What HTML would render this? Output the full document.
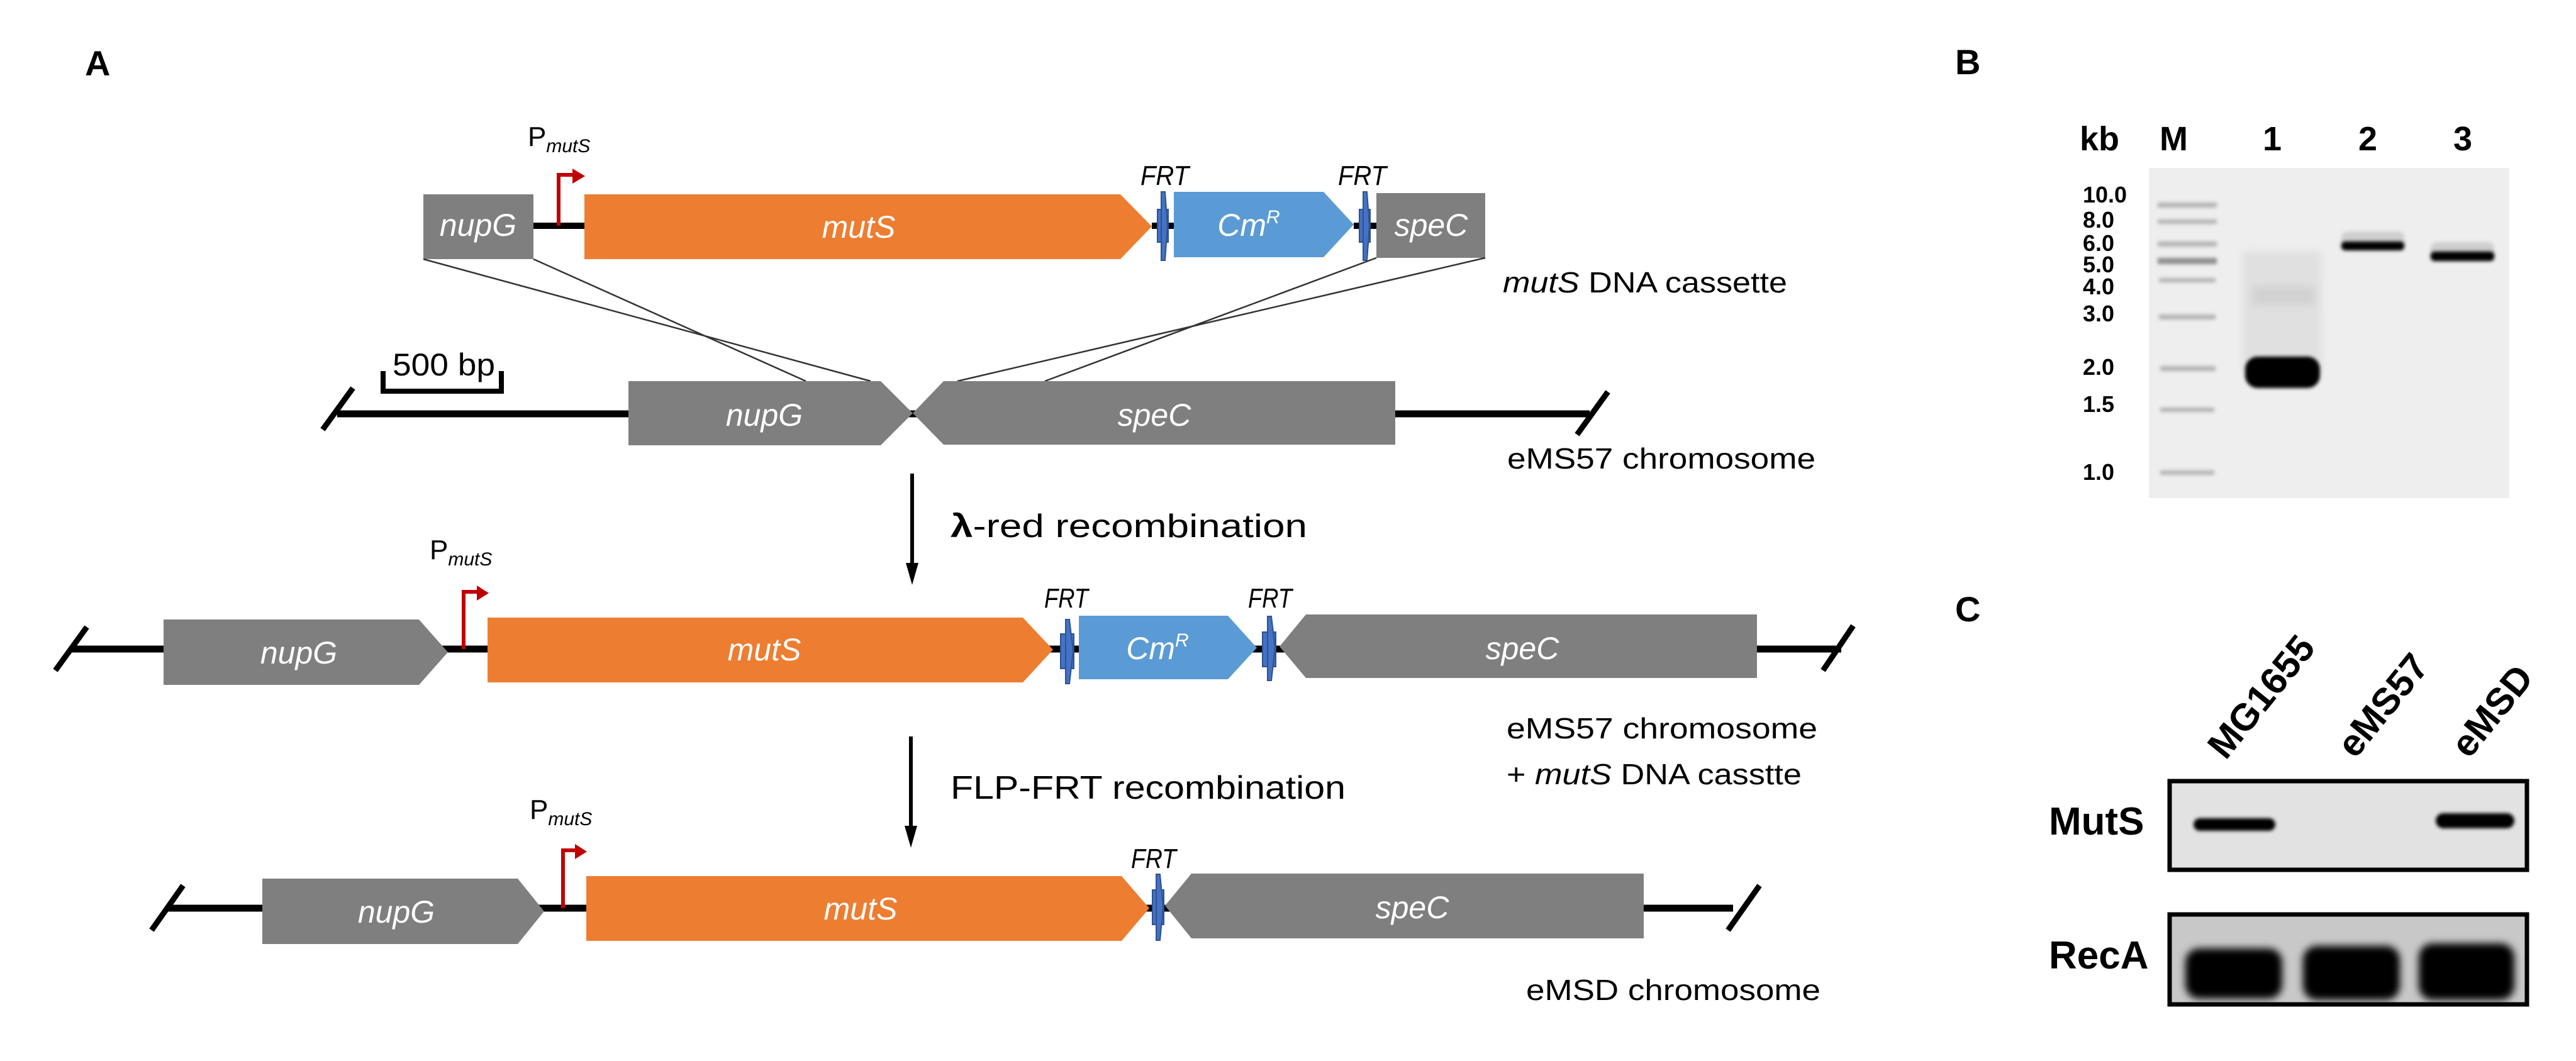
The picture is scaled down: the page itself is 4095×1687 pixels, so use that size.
<!DOCTYPE html>
<html><head><meta charset="utf-8"><style>
html,body{margin:0;padding:0;background:#fff}
svg{display:block}
text{font-family:"Liberation Sans",sans-serif}
.g{fill:#fff;font-style:italic;font-size:50px;text-anchor:middle}
.frt{font-style:italic;font-size:44px;fill:#000}
.lab{font-size:46px;fill:#000}
.gel{font-weight:bold;font-size:36px;fill:#000;font-family:"Liberation Sans",sans-serif}
</style></head><body>
<svg width="4095" height="1687" viewBox="0 0 4095 1687" xmlns="http://www.w3.org/2000/svg">
<defs>
<filter id="bl" x="-20%" y="-50%" width="140%" height="200%"><feGaussianBlur stdDeviation="6"/></filter>
<filter id="bl2" x="-20%" y="-50%" width="140%" height="200%"><feGaussianBlur stdDeviation="3"/></filter>
</defs>
<text x="135" y="120" font-size="56" font-weight="bold">A</text>
<text x="3108" y="118" font-size="56" font-weight="bold">B</text>
<text x="3108" y="988" font-size="56" font-weight="bold">C</text>

<line x1="848" y1="359" x2="930" y2="359" stroke="#000" stroke-width="10"/>
<line x1="1831" y1="359" x2="1866" y2="359" stroke="#000" stroke-width="10"/>
<line x1="2152" y1="359" x2="2188" y2="359" stroke="#000" stroke-width="10"/>
<rect x="673" y="309" width="175" height="103" fill="#7f7f7f"/>
<text class="g" x="760" y="375">nupG</text>
<polygon points="929,309 1781,309 1831,360 1781,412 929,412" fill="#ed7d31"/>
<text class="g" x="1365" y="378">mutS</text>
<polygon points="1866,305 2104,305 2152,357 2104,409 1866,409" fill="#5b9bd5"/>
<text class="g" x="1985" y="375" font-size="52">Cm<tspan font-size="30" dy="-20">R</tspan></text>
<rect x="2188" y="307" width="173" height="103" fill="#7f7f7f"/>
<text class="g" x="2275" y="375">speC</text>
<g fill="#4472c4" stroke="#2f528f" stroke-width="2">
<polygon points="1840,333 1857,333 1857,385 1840,385"/>
<polygon points="1846,305 1852,305 1856,360 1852,414 1846,414"/>
<polygon points="2161,333 2178,333 2178,385 2161,385"/>
<polygon points="2167,305 2173,305 2177,360 2173,414 2167,414"/>
</g>
<text class="frt" x="1813" y="294" textLength="77" lengthAdjust="spacingAndGlyphs">FRT</text>
<text class="frt" x="2127" y="294" textLength="77" lengthAdjust="spacingAndGlyphs">FRT</text>
<path d="M888,359 V278 H912" fill="none" stroke="#c00000" stroke-width="6"/>
<polygon points="910,268 930,280 910,292" fill="#c00000"/>
<text x="839" y="232" font-size="44">P<tspan font-size="30" font-style="italic" dy="10">mutS</tspan></text>
<text class="lab" x="2389" y="465" textLength="452" lengthAdjust="spacingAndGlyphs"><tspan font-style="italic">mutS</tspan> DNA cassette</text>

<g stroke="#333" stroke-width="2.5">
<line x1="673" y1="412" x2="1384" y2="606"/>
<line x1="848" y1="412" x2="1281" y2="606"/>
<line x1="2188" y1="410" x2="1661" y2="606"/>
<line x1="2361" y1="410" x2="1522" y2="606"/>
</g>

<line x1="536" y1="658" x2="2527" y2="658" stroke="#000" stroke-width="11"/>
<line x1="561" y1="617" x2="513" y2="683" stroke="#000" stroke-width="9"/>
<line x1="2556" y1="623" x2="2507" y2="691" stroke="#000" stroke-width="9"/>
<polygon points="999,606 1400,606 1451,657 1400,708 999,708" fill="#7f7f7f"/>
<text class="g" x="1215" y="677">nupG</text>
<polygon points="1500,606 2218,606 2218,707 1500,707 1451,657" fill="#7f7f7f"/>
<text class="g" x="1835" y="677">speC</text>
<path d="M609,590 V622 H797 V590" fill="none" stroke="#000" stroke-width="8"/>
<text x="624" y="597" font-size="50" textLength="163" lengthAdjust="spacingAndGlyphs">500 bp</text>
<text class="lab" x="2396" y="745" textLength="490" lengthAdjust="spacingAndGlyphs">eMS57 chromosome</text>

<line x1="1450" y1="753" x2="1450" y2="900" stroke="#000" stroke-width="6"/>
<polygon points="1440,895 1460,895 1450,930" fill="#000"/>
<text x="1511" y="854" font-size="52" textLength="567" lengthAdjust="spacingAndGlyphs"><tspan font-weight="bold">λ</tspan>-red recombination</text>

<line x1="112" y1="1032" x2="2927" y2="1032" stroke="#000" stroke-width="11"/>
<line x1="138" y1="997" x2="88" y2="1066" stroke="#000" stroke-width="9"/>
<line x1="2946" y1="995" x2="2898" y2="1066" stroke="#000" stroke-width="9"/>
<polygon points="260,985 666,985 712,1037 666,1089 260,1089" fill="#7f7f7f"/>
<text class="g" x="475" y="1055">nupG</text>
<polygon points="775,982 1626,982 1674,1033 1626,1085 775,1085" fill="#ed7d31"/>
<text class="g" x="1215" y="1050">mutS</text>
<polygon points="1715,979 1952,979 1998,1030 1952,1080 1715,1080" fill="#5b9bd5"/>
<text class="g" x="1840" y="1048" font-size="52">Cm<tspan font-size="30" dy="-20">R</tspan></text>
<polygon points="2076,977 2793,977 2793,1078 2076,1078 2034,1028" fill="#7f7f7f"/>
<text class="g" x="2420" y="1048">speC</text>
<g fill="#4472c4" stroke="#2f528f" stroke-width="2">
<polygon points="1686,1008 1707,1008 1707,1063 1686,1063"/>
<polygon points="1694,985 1700,985 1706,1035 1700,1087 1694,1087"/>
<polygon points="2007,1005 2028,1005 2028,1060 2007,1060"/>
<polygon points="2015,980 2021,980 2027,1030 2021,1082 2015,1082"/>
</g>
<text class="frt" x="1660" y="966" textLength="70" lengthAdjust="spacingAndGlyphs">FRT</text>
<text class="frt" x="1984" y="966" textLength="70" lengthAdjust="spacingAndGlyphs">FRT</text>
<path d="M737,1032 V941 H760" fill="none" stroke="#c00000" stroke-width="6"/>
<polygon points="758,931 777,943 758,955" fill="#c00000"/>
<text x="683" y="889" font-size="44">P<tspan font-size="30" font-style="italic" dy="10">mutS</tspan></text>
<text class="lab" x="2395" y="1174" textLength="494" lengthAdjust="spacingAndGlyphs">eMS57 chromosome</text>
<text class="lab" x="2395" y="1247" textLength="469" lengthAdjust="spacingAndGlyphs">+ <tspan font-style="italic">mutS</tspan> DNA casstte</text>

<line x1="1448" y1="1171" x2="1448" y2="1318" stroke="#000" stroke-width="6"/>
<polygon points="1438,1313 1458,1313 1448,1348" fill="#000"/>
<text x="1511" y="1270" font-size="52" textLength="628" lengthAdjust="spacingAndGlyphs">FLP-FRT recombination</text>

<line x1="265" y1="1444" x2="2755" y2="1444" stroke="#000" stroke-width="11"/>
<line x1="291" y1="1408" x2="241" y2="1479" stroke="#000" stroke-width="9"/>
<line x1="2797" y1="1408" x2="2747" y2="1479" stroke="#000" stroke-width="9"/>
<polygon points="417,1397 823,1397 865,1449 823,1501 417,1501" fill="#7f7f7f"/>
<text class="g" x="630" y="1467">nupG</text>
<polygon points="932,1393 1783,1393 1827,1444 1783,1496 932,1496" fill="#ed7d31"/>
<text class="g" x="1368" y="1462">mutS</text>
<polygon points="1894,1389 2613,1389 2613,1492 1894,1492 1852,1440" fill="#7f7f7f"/>
<text class="g" x="2245" y="1460">speC</text>
<g fill="#4472c4" stroke="#2f528f" stroke-width="2">
<polygon points="1832,1415 1850,1415 1850,1470 1832,1470"/>
<polygon points="1838,1390 1844,1390 1849,1442 1844,1495 1838,1495"/>
</g>
<text class="frt" x="1798" y="1380" textLength="72" lengthAdjust="spacingAndGlyphs">FRT</text>
<path d="M895,1444 V1352 H916" fill="none" stroke="#c00000" stroke-width="6"/>
<polygon points="914,1342 933,1354 914,1366" fill="#c00000"/>
<text x="842" y="1302" font-size="44">P<tspan font-size="30" font-style="italic" dy="10">mutS</tspan></text>
<text class="lab" x="2426" y="1590" textLength="468" lengthAdjust="spacingAndGlyphs">eMSD chromosome</text>

<!-- PANEL B -->
<text x="3306" y="239" font-size="54" font-weight="bold">kb</text>
<text x="3433" y="239" font-size="54" font-weight="bold">M</text>
<text x="3612" y="239" font-size="54" font-weight="bold" text-anchor="middle">1</text>
<text x="3764" y="239" font-size="54" font-weight="bold" text-anchor="middle">2</text>
<text x="3915" y="239" font-size="54" font-weight="bold" text-anchor="middle">3</text>
<rect x="3416" y="267" width="573" height="525" fill="#eeeeee"/>
<rect x="3565" y="400" width="125" height="190" fill="#e0e0e0" filter="url(#bl)"/>
<rect x="3580" y="455" width="100" height="30" fill="#d2d2d2" filter="url(#bl)"/>
<g fill="#b4b4b4" filter="url(#bl2)">
<rect x="3430" y="322" width="94" height="8"/>
<rect x="3430" y="349" width="94" height="7"/>
<rect x="3430" y="384" width="94" height="8"/>
<rect x="3430" y="410" width="94" height="10" fill="#909090"/>
<rect x="3432" y="442" width="90" height="7"/>
<rect x="3432" y="500" width="90" height="8"/>
<rect x="3434" y="582" width="88" height="8"/>
<rect x="3434" y="648" width="86" height="7"/>
<rect x="3434" y="748" width="86" height="7"/>
</g>
<rect x="3569" y="567" width="119" height="50" rx="20" fill="#000" filter="url(#bl2)"/>
<rect x="3722" y="368" width="100" height="30" rx="10" fill="#cfcfcf" filter="url(#bl2)"/>
<rect x="3722" y="384" width="100" height="14" rx="6" fill="#000" filter="url(#bl2)"/>
<rect x="3864" y="385" width="101" height="31" rx="10" fill="#cfcfcf" filter="url(#bl2)"/>
<rect x="3864" y="400" width="101" height="15" rx="6" fill="#000" filter="url(#bl2)"/>
<text class="gel" x="3311" y="322">10.0</text>
<text class="gel" x="3311" y="362">8.0</text>
<text class="gel" x="3311" y="399">6.0</text>
<text class="gel" x="3311" y="433">5.0</text>
<text class="gel" x="3311" y="468">4.0</text>
<text class="gel" x="3311" y="511">3.0</text>
<text class="gel" x="3311" y="596">2.0</text>
<text class="gel" x="3311" y="655">1.5</text>
<text class="gel" x="3311" y="763">1.0</text>

<!-- PANEL C -->
<text transform="translate(3538,1210) rotate(-51)" font-size="60" font-weight="bold">MG1655</text>
<text transform="translate(3744,1208) rotate(-51)" font-size="60" font-weight="bold">eMS57</text>
<text transform="translate(3925,1208) rotate(-51)" font-size="60" font-weight="bold">eMSD</text>
<text x="3257" y="1327" font-size="62" font-weight="bold">MutS</text>
<text x="3257" y="1540" font-size="62" font-weight="bold">RecA</text>
<rect x="3449" y="1242" width="568" height="141" fill="#e2e2e2" stroke="#000" stroke-width="7"/>
<rect x="3449" y="1454" width="568" height="143" fill="#c8c8c8" stroke="#000" stroke-width="7"/>
<rect x="3487" y="1301" width="130" height="20" rx="10" fill="#000" filter="url(#bl2)"/>
<rect x="3872" y="1293" width="125" height="24" rx="12" fill="#000" filter="url(#bl2)"/>
<rect x="3474" y="1508" width="154" height="80" rx="22" fill="#000" filter="url(#bl)"/>
<rect x="3661" y="1504" width="154" height="86" rx="22" fill="#000" filter="url(#bl)"/>
<rect x="3845" y="1500" width="152" height="90" rx="22" fill="#000" filter="url(#bl)"/>
</svg>
</body></html>
